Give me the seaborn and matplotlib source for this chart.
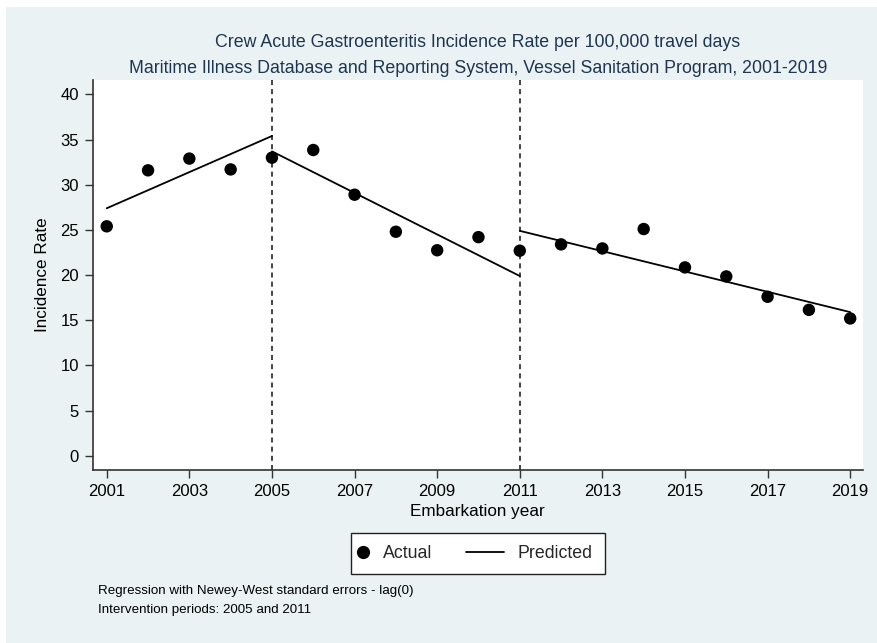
import matplotlib
matplotlib.use("Agg")
import matplotlib.pyplot as plt
from matplotlib.lines import Line2D
from matplotlib.patches import Rectangle
from matplotlib.legend_handler import HandlerBase
import numpy as np
import pandas as pd
import seaborn as sns

# Observed crew AGE incidence per 100,000 travel days
years = [2001, 2002, 2003, 2004, 2005, 2006, 2007, 2008, 2009, 2010,
         2011, 2012, 2013, 2014, 2015, 2016, 2017, 2018, 2019]
actual = [25.4, 31.6, 32.9, 31.7, 33.0, 33.85, 28.9, 24.8, 22.75, 24.2,
          22.7, 23.4, 22.95, 25.1, 20.85, 19.85, 17.6, 16.15, 15.2]

# Segmented regression fit: start/end year and fitted value per period
seg_start_year = [2001, 2005, 2011]
seg_end_year = [2005, 2011, 2019]
pred_start = [27.4, 33.7, 24.9]
pred_end = [35.4, 19.9, 15.9]

interventions = [2005, 2011]
x_ticks = list(range(2001, 2020, 2))
y_ticks = list(range(0, 41, 5))

title_lines = [
    "Crew Acute Gastroenteritis Incidence Rate per 100,000 travel days",
    "Maritime Illness Database and Reporting System, Vessel Sanitation Program, 2001-2019",
]
notes = [
    "Regression with Newey-West standard errors - lag(0)",
    "Intervention periods: 2005 and 2011",
]


class KeyHandler(HandlerBase):
    """Legend key drawn at a chosen span of the key box (fractions of width)."""

    def __init__(self, x0, x1=None, marker=False):
        super().__init__()
        self.x0, self.x1, self.marker = x0, x1, marker

    def create_artists(self, legend, orig_handle, xdescent, ydescent,
                       width, height, fontsize, trans):
        y = height / 2 - ydescent
        if self.marker:
            art = Line2D([self.x0 * width - xdescent], [y], marker="o",
                         linestyle="none", color="black", markersize=8.5)
        else:
            art = Line2D([self.x0 * width - xdescent, self.x1 * width - xdescent],
                         [y, y], color="black", linewidth=1.3)
        art.set_transform(trans)
        return [art]


sns.set_theme(style="white")
plt.rcParams["font.family"] = ["Liberation Sans", "DejaVu Sans"]

W, H = 877, 643
fig = plt.figure(figsize=(W / 100, H / 100), dpi=100, facecolor="white")
# light panel behind the whole graph
fig.patches.append(Rectangle((6 / W, 0), 1 - 6 / W, 1 - 7 / H,
                             transform=fig.transFigure, facecolor="#EAF2F3",
                             edgecolor="none", zorder=-10))

ax = fig.add_axes([92.7 / W, 1 - 470 / H, (863 - 92.7) / W, (470 - 80) / H])
ax.set_facecolor("white")
ax.set_zorder(1)

obs = pd.DataFrame({"year": years, "rate": actual})
fit = pd.DataFrame({
    "segment": np.repeat(np.arange(len(seg_start_year)), 2),
    "year": np.ravel(np.column_stack([seg_start_year, seg_end_year])),
    "rate": np.ravel(np.column_stack([pred_start, pred_end])),
})

sns.lineplot(data=fit, x="year", y="rate", units="segment", estimator=None,
             color="black", linewidth=1.3, ax=ax, legend=False, zorder=3)
sns.scatterplot(data=obs, x="year", y="rate", color="black", s=80,
                edgecolor="none", ax=ax, legend=False, zorder=4)

for yr in interventions:
    ax.axvline(yr, color="#222222", linewidth=1.2, linestyle=(0, (3, 2.5)),
               zorder=2)

ax.set_xlim(2000.66, 2019.31)
ax.set_ylim(-1.58, 41.6)
ax.set_xticks(x_ticks)
ax.set_yticks(y_ticks)
ax.tick_params(axis="both", which="major", direction="out", length=5.8,
               width=1.0, color="#333333", labelsize=12, pad=4,
               labelcolor="black", bottom=True, left=True)

for side in ["top", "right"]:
    ax.spines[side].set_visible(False)
for side in ["left", "bottom"]:
    ax.spines[side].set_color("#333333")
    ax.spines[side].set_linewidth(1.2)

ax.set_xlabel("Embarkation year", fontsize=12.3, color="black")
ax.set_ylabel("Incidence Rate", fontsize=12.3, color="black")
ax.xaxis.set_label_coords(0.5, -0.0872)
ax.yaxis.set_label_coords(-0.0554, 0.5)

for i, line in enumerate(title_lines):
    fig.text(478 / W, 1 - (42.7 + i * 25.6) / H, line, ha="center",
             va="center", fontsize=12.8, color="#1F3552")

h_actual = Line2D([], [], marker="o", linestyle="none", color="black",
                  label="Actual")
h_pred = Line2D([], [], color="black", label="Predicted")
leg = fig.legend(handles=[h_actual, h_pred], loc="center",
                 bbox_to_anchor=(478 / W, 1 - 553.5 / H), ncol=2,
                 frameon=True, fancybox=False, framealpha=1.0, fontsize=12.8,
                 handlelength=0.9, columnspacing=3.7, handletextpad=0.2,
                 borderpad=0.7, borderaxespad=0,
                 handler_map={h_actual: KeyHandler(0.0, marker=True),
                              h_pred: KeyHandler(-2.03, 0.35)})
leg.get_frame().set_edgecolor("#222222")
leg.get_frame().set_linewidth(1.0)
leg.get_frame().set_facecolor("white")

for i, note in enumerate(notes):
    fig.text(98 / W, 1 - (591 + i * 19.5) / H, note, ha="left",
             va="center", fontsize=9.6, color="black")

fig.savefig("out.png", dpi=100, facecolor=fig.get_facecolor())
